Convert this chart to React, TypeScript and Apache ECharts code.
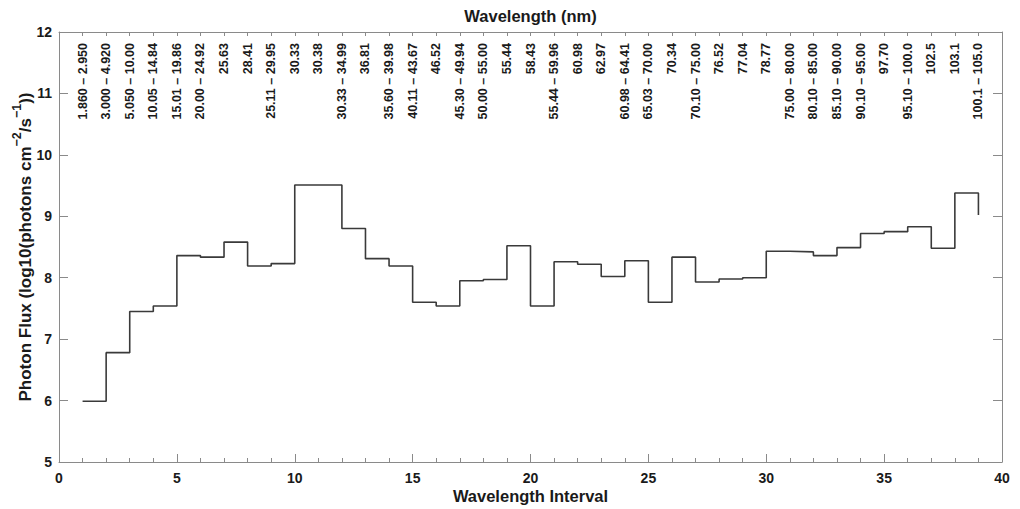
import React, { useEffect, useRef } from "react";
import * as echarts from "echarts";

const intervals: number[] = [
  1, 2, 3, 4, 5, 6, 7, 8, 9, 10, 11, 12, 13, 14, 15, 16, 17, 18, 19, 20,
  21, 22, 23, 24, 25, 26, 27, 28, 29, 30, 31, 32, 33, 34, 35, 36, 37, 38, 39,
];

const fluxLog10: number[] = [
  5.99, 6.78, 7.45, 7.54, 8.36, 8.335, 8.58, 8.19, 8.23, 9.51,
  9.51, 8.8, 8.31, 8.19, 7.6, 7.54, 7.95, 7.97, 8.52, 7.54,
  8.26, 8.22, 8.02, 8.275, 7.6, 8.335, 7.93, 7.98, 8.0, 8.43,
  8.42, 8.36, 8.49, 8.72, 8.75, 8.83, 8.48, 9.38, 9.02,
];

const wavelengthLabels: string[] = [
  "1.860 – 2.950", "3.000 – 4.920", "5.050 – 10.00", "10.05 – 14.84",
  "15.01 – 19.86", "20.00 – 24.92", "25.63", "28.41", "25.11 – 29.95",
  "30.33", "30.38", "30.33 – 34.99", "36.81", "35.60 – 39.98",
  "40.11 – 43.67", "46.52", "45.30 – 49.94", "50.00 – 55.00", "55.44",
  "58.43", "55.44 – 59.96", "60.98", "62.97", "60.98 – 64.41",
  "65.03 – 70.00", "70.34", "70.10 – 75.00", "76.52", "77.04", "78.77",
  "75.00 – 80.00", "80.10 – 85.00", "85.10 – 90.00", "90.10 – 95.00",
  "97.70", "95.10 – 100.0", "102.5", "103.1", "100.1 – 105.0",
];

const FONT = "'Liberation Sans', Arial, Helvetica, sans-serif";
const AXIS_COLOR = "#8a8a8a";
const TEXT_COLOR = "#1a1a1a";

export default function App() {
  const ref = useRef<HTMLDivElement>(null);

  useEffect(() => {
    if (!ref.current) return;
    const chart = echarts.init(ref.current, undefined, { renderer: "svg" });
    const data = intervals.map((x, i) => [x, fluxLog10[i]]);

    chart.setOption({
      animation: false,
      backgroundColor: "#ffffff",
      grid: {
        left: 59,
        right: 18,
        top: 32,
        bottom: 47,
        containLabel: false,
        outerBoundsMode: "none",
      },
      xAxis: [
        {
          type: "value",
          position: "bottom",
          min: 0,
          max: 40,
          interval: 5,
          axisLine: { show: true, onZero: false, lineStyle: { color: AXIS_COLOR, width: 1 } },
          axisTick: { show: true, inside: true, length: 8, lineStyle: { color: AXIS_COLOR } },
          minorTick: { show: true, splitNumber: 5, length: 4, lineStyle: { color: AXIS_COLOR } },
          splitLine: { show: false },
          axisLabel: {
            color: TEXT_COLOR,
            fontFamily: FONT,
            fontWeight: "bold",
            fontSize: 14,
            margin: 9,
          },
          name: "Wavelength Interval",
          nameLocation: "middle",
          nameGap: 25,
          nameMoveOverlap: false,
          nameTextStyle: { color: TEXT_COLOR, fontFamily: FONT, fontWeight: "bold", fontSize: 16.5 },
        },
        {
          type: "value",
          position: "top",
          min: 0,
          max: 40,
          interval: 1,
          axisLine: { show: true, onZero: false, lineStyle: { color: AXIS_COLOR, width: 1 } },
          axisTick: { show: true, inside: true, length: 4, lineStyle: { color: AXIS_COLOR } },
          splitLine: { show: false },
          axisLabel: {
            inside: true,
            rotate: -90,
            margin: 11,
            color: TEXT_COLOR,
            fontFamily: FONT,
            fontWeight: "bold",
            fontSize: 12.5,
            showMinLabel: true,
            showMaxLabel: true,
            formatter: (v: number) => {
              const idx = Math.round(v) - 1;
              return idx >= 0 && idx < wavelengthLabels.length ? wavelengthLabels[idx] : "";
            },
          },
          name: "Wavelength (nm)",
          nameLocation: "middle",
          nameGap: 8,
          nameMoveOverlap: false,
          nameTextStyle: { color: TEXT_COLOR, fontFamily: FONT, fontWeight: "bold", fontSize: 16.5 },
        },
      ],
      yAxis: [
        {
          type: "value",
          position: "left",
          min: 5,
          max: 12,
          interval: 1,
          axisLine: { show: true, onZero: false, lineStyle: { color: AXIS_COLOR, width: 1 } },
          axisTick: { show: true, inside: true, length: 9, lineStyle: { color: AXIS_COLOR } },
          splitLine: { show: false },
          axisLabel: {
            color: TEXT_COLOR,
            fontFamily: FONT,
            fontWeight: "bold",
            fontSize: 14,
            margin: 7,
          },
          name: "{a|Photon Flux (log10(photons cm}{s|−2}{a|/s}{s|−1}{a|))}",
          nameLocation: "middle",
          nameGap: 25,
          nameRotate: 90,
          nameMoveOverlap: false,
          nameTextStyle: {
            color: TEXT_COLOR,
            fontFamily: FONT,
            fontWeight: "bold",
            fontSize: 17,
            rich: {
              a: { color: TEXT_COLOR, fontFamily: FONT, fontWeight: "bold", fontSize: 17, lineHeight: 24, verticalAlign: "bottom" },
              s: { color: TEXT_COLOR, fontFamily: FONT, fontWeight: "bold", fontSize: 12.5, lineHeight: 13, verticalAlign: "top" },
            },
          },
        },
        {
          type: "value",
          position: "right",
          min: 5,
          max: 12,
          interval: 1,
          axisLine: { show: true, onZero: false, lineStyle: { color: AXIS_COLOR, width: 1 } },
          axisTick: { show: true, inside: true, length: 9, lineStyle: { color: AXIS_COLOR } },
          splitLine: { show: false },
          axisLabel: { show: false },
        },
      ],
      series: [
        {
          type: "line",
          step: "end",
          xAxisIndex: 0,
          yAxisIndex: 0,
          data,
          symbol: "none",
          lineStyle: { color: "#3a3a3a", width: 1.6 },
        },
      ],
    });

    return () => chart.dispose();
  }, []);

  return (
    <div
      ref={ref}
      style={{ position: "fixed", left: 0, top: 0, width: 1020, height: 509, background: "#fff" }}
    />
  );
}
